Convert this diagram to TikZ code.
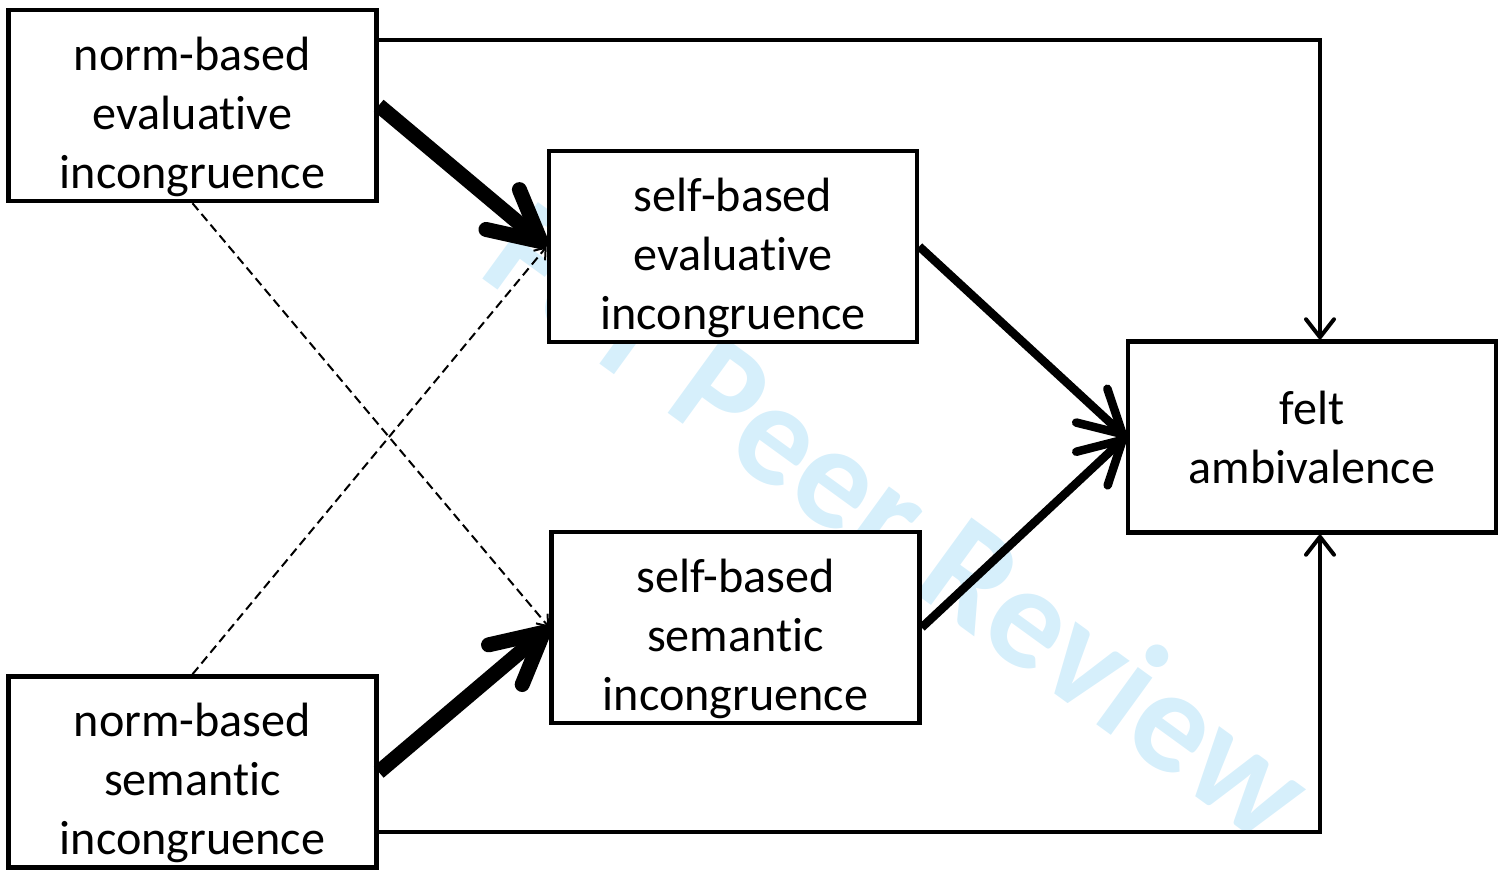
\documentclass[tikz,border=0pt]{standalone}
\usepackage{fontspec}
\setmainfont{Carlito}[Ligatures={NoCommon,NoContextual}]
\definecolor{watermark1}{RGB}{214, 239, 251}
\usetikzlibrary{arrows.meta, positioning}

\begin{document}
\begin{tikzpicture}[
    box/.style={draw, line width=0.045cm, fill=white, minimum width=3.68cm, minimum height=1.91cm, inner sep=0pt, align=center, font=\fontsize{13.7}{16.8}\selectfont},
    box3/.style={box, text height=1.74cm},
    thinarrow/.style={line width=0.04cm, -{Straight Barb[length=0.18cm, width=0.28cm, round]}},
    midarrow/.style={line width=0.085cm, -{Straight Barb[length=0.42cm, width=0.46cm, round]}},
    thickarrow/.style={line width=0.15cm, -{Straight Barb[length=0.5cm, width=0.52cm, round]}},
    dasharrow/.style={line width=0.02cm, dash pattern=on 0.09cm off 0.05cm, -{Straight Barb[length=0.1cm, width=0.15cm]}}
  ]
  \useasboundingbox (0,0) rectangle (15.01,8.74);

  % watermark behind everything
  \node[text=watermark1, font=\fontsize{41.5}{48}\selectfont\bfseries, rotate=-36, anchor=base] (mark) at (8.71,3.13) {For Peer Review};

  % boxes
  \node[box3] (normeval) at (1.925,7.685) {norm-based\\evaluative\\incongruence};
  \node[box3] (selfeval) at (7.33,6.275) {self-based\\evaluative\\incongruence};
  \node[box3] (selfsem) at (7.355,2.465) {self-based\\semantic\\incongruence};
  \node[box3] (normsem) at (1.925,1.02) {norm-based\\semantic\\incongruence};
  \node[box] (felt) at (13.12,4.37) {felt\\ambivalence};

  % direct paths
  \draw[thinarrow] ([yshift=-0.32cm]normeval.north east) -| ([xshift=0.08cm]felt.north);
  \draw[thinarrow] ([yshift=0.38cm]normsem.south east) -| ([xshift=0.08cm]felt.south);

  % mediated paths
  \draw[thickarrow] (normeval.east) -- (selfeval.west);
  \draw[thickarrow] (normsem.east) -- (selfsem.west);
  \draw[midarrow] (selfeval.east) -- (felt.west);
  \draw[midarrow] (selfsem.east) -- (felt.west);

  % cross paths
  \draw[dasharrow] (normeval.south) -- (selfsem.west);
  \draw[dasharrow] (normsem.north) -- (selfeval.west);
\end{tikzpicture}
\end{document}
